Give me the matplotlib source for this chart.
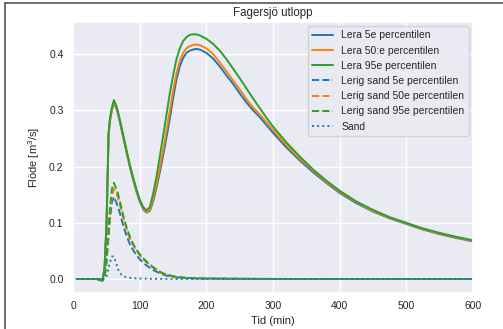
import numpy as np
import matplotlib
matplotlib.use('Agg')
import matplotlib.pyplot as plt
import seaborn as sns

# tid (min)
tid = [5, 30, 35, 40, 44, 47, 50, 53, 55, 58, 61, 64, 67, 70, 75, 80, 85, 90, 95, 100,
       105, 110, 115, 120, 125, 130, 135, 140, 145, 150, 155, 160, 165, 170, 175, 180,
       185, 190, 195, 200, 210, 220, 230, 240, 250, 260, 270, 280, 290, 300, 320, 340,
       360, 380, 400, 425, 450, 475, 500, 525, 550, 575, 600]

lera_5 = [0, 0, 0, -0.002, -0.003, 0.02, 0.1, 0.255, 0.28, 0.30, 0.313, 0.306, 0.294, 0.279,
          0.252, 0.225, 0.199, 0.176, 0.155, 0.137, 0.124, 0.118, 0.121, 0.138, 0.162, 0.190,
          0.220, 0.252, 0.285, 0.322, 0.355, 0.378, 0.393, 0.402, 0.406, 0.408, 0.409, 0.408,
          0.405, 0.402, 0.392, 0.378, 0.362, 0.347, 0.330, 0.314, 0.300, 0.288, 0.274, 0.260,
          0.234, 0.211, 0.190, 0.171, 0.153, 0.135, 0.120, 0.108, 0.098, 0.088, 0.080, 0.073,
          0.067]
lera_50 = [0, 0, 0, -0.002, -0.003, 0.02, 0.1, 0.258, 0.283, 0.302, 0.315, 0.308, 0.296, 0.281,
           0.254, 0.227, 0.201, 0.178, 0.157, 0.139, 0.126, 0.119, 0.123, 0.142, 0.168, 0.198,
           0.230, 0.264, 0.299, 0.335, 0.366, 0.388, 0.402, 0.410, 0.414, 0.416, 0.417, 0.416,
           0.413, 0.410, 0.400, 0.385, 0.369, 0.353, 0.337, 0.320, 0.305, 0.293, 0.279, 0.265,
           0.238, 0.214, 0.193, 0.173, 0.155, 0.137, 0.121, 0.109, 0.099, 0.089, 0.081, 0.074,
           0.068]
lera_95 = [0, 0, 0, -0.002, -0.003, 0.02, 0.1, 0.26, 0.285, 0.305, 0.318, 0.310, 0.298, 0.283,
           0.256, 0.229, 0.203, 0.180, 0.159, 0.141, 0.128, 0.122, 0.128, 0.152, 0.182, 0.218,
           0.255, 0.292, 0.330, 0.362, 0.391, 0.410, 0.423, 0.430, 0.434, 0.435, 0.435, 0.433,
           0.430, 0.427, 0.418, 0.406, 0.391, 0.374, 0.357, 0.339, 0.321, 0.304, 0.287, 0.271,
           0.243, 0.218, 0.195, 0.175, 0.157, 0.138, 0.123, 0.110, 0.100, 0.090, 0.082, 0.075,
           0.069]

lerig_5 = [0, 0, 0, 0, -0.002, 0.003, 0.03, 0.075, 0.105, 0.137, 0.146, 0.138, 0.128, 0.117,
           0.095, 0.077, 0.062, 0.051, 0.042, 0.035, 0.029, 0.024, 0.020, 0.016, 0.013, 0.010,
           0.008, 0.006, 0.005, 0.004, 0.003, 0.0025, 0.002, 0.0017, 0.0015, 0.0013, 0.0012,
           0.001, 0.001, 0.0009, 0.0008, 0.0007, 0.0006, 0.0005, 0.0004, 0.0003, 0.0003, 0.0002,
           0.0002, 0.0001, 0.0001, 0, 0, 0, 0, 0, 0, 0, 0, 0, 0, 0, 0]
lerig_50 = [0, 0, 0, 0, -0.002, 0.004, 0.035, 0.085, 0.118, 0.150, 0.160, 0.154, 0.145, 0.132,
            0.108, 0.088, 0.072, 0.060, 0.050, 0.042, 0.035, 0.030, 0.025, 0.020, 0.016, 0.012,
            0.0095, 0.0075, 0.006, 0.0048, 0.0038, 0.003, 0.0025, 0.002, 0.0017, 0.0015, 0.0013,
            0.0011, 0.001, 0.0009, 0.0008, 0.0007, 0.0006, 0.0005, 0.0004, 0.0003, 0.0003, 0.0002,
            0.0002, 0.0001, 0.0001, 0, 0, 0, 0, 0, 0, 0, 0, 0, 0, 0, 0]
lerig_95 = [0, 0, 0, 0, -0.002, 0.005, 0.04, 0.09, 0.125, 0.160, 0.171, 0.162, 0.152, 0.138,
            0.113, 0.092, 0.075, 0.062, 0.052, 0.044, 0.037, 0.031, 0.026, 0.021, 0.017, 0.013,
            0.010, 0.008, 0.0065, 0.005, 0.004, 0.0032, 0.0026, 0.0021, 0.0018, 0.0015, 0.0013,
            0.0011, 0.001, 0.0009, 0.0008, 0.0007, 0.0006, 0.0005, 0.0004, 0.0003, 0.0003, 0.0002,
            0.0002, 0.0001, 0.0001, 0, 0, 0, 0, 0, 0, 0, 0, 0, 0, 0, 0]

sand = [0, 0, 0, 0, 0, 0, 0.005, 0.02, 0.03, 0.04, 0.04, 0.03, 0.018, 0.01, 0.005, 0.003,
        0.002, 0.0015, 0.001, 0.0008, 0.0006, 0.0005, 0.0004, 0.0003, 0.0003, 0.0002, 0.0002,
        0.0002, 0.0001, 0.0001, 0.0001, 0.0001, 0, 0, 0, 0, 0, 0, 0, 0, 0, 0, 0, 0, 0, 0, 0,
        0, 0, 0, 0, 0, 0, 0, 0, 0, 0, 0, 0, 0, 0, 0, 0]

namn = ['Lera 5e percentilen', 'Lera 50:e percentilen', 'Lera 95e percentilen',
        'Lerig sand 5e percentilen', 'Lerig sand 50e percentilen', 'Lerig sand 95e percentilen',
        'Sand']

sns.set_theme(style='darkgrid')
plt.rcParams['font.family'] = ['Liberation Sans', 'DejaVu Sans']
plt.rcParams['mathtext.fontset'] = 'custom'
plt.rcParams['mathtext.rm'] = 'Liberation Sans'

fig = plt.figure(figsize=(5.03, 3.29), dpi=100)
ax = fig.add_axes([0.1457, 0.1094, 0.7941, 0.8237])

farger = ['#1f77b4', '#ff7f0e', '#2ca02c']
serier = [lera_5, lera_50, lera_95, lerig_5, lerig_50, lerig_95]
for i, s in enumerate(serier):
    stil = '-' if i < 3 else '--'
    ax.plot(tid, s, linestyle=stil, color=farger[i % 3], linewidth=1.4, label=namn[i])
ax.plot(tid, sand, linestyle=':', color=farger[0], linewidth=1.4, label=namn[6])

ax.set_xlim(0, 600)
ax.set_title('Fagersjö utlopp', fontsize=8.3, pad=4)
ax.set_xlabel('Tid (min)', fontsize=8, labelpad=3.5)
ax.set_ylabel('Flöde [m$^3$/s]', fontsize=8, labelpad=5)
ax.tick_params(axis='x', labelsize=7.5, length=0, pad=5.5)
ax.tick_params(axis='y', labelsize=7.5, length=0, pad=7)
ax.legend(loc='upper right', fontsize=7.5, handlelength=2.0, labelspacing=0.5,
          borderaxespad=0.4)

# ram runt bilden
fig.add_artist(plt.Line2D([0.009, 1], [0.992, 0.992], color='#555555', linewidth=1.2))
fig.add_artist(plt.Line2D([0.009, 0.009], [0, 0.992], color='#555555', linewidth=1.2))

fig.savefig('out.png', dpi=100)
